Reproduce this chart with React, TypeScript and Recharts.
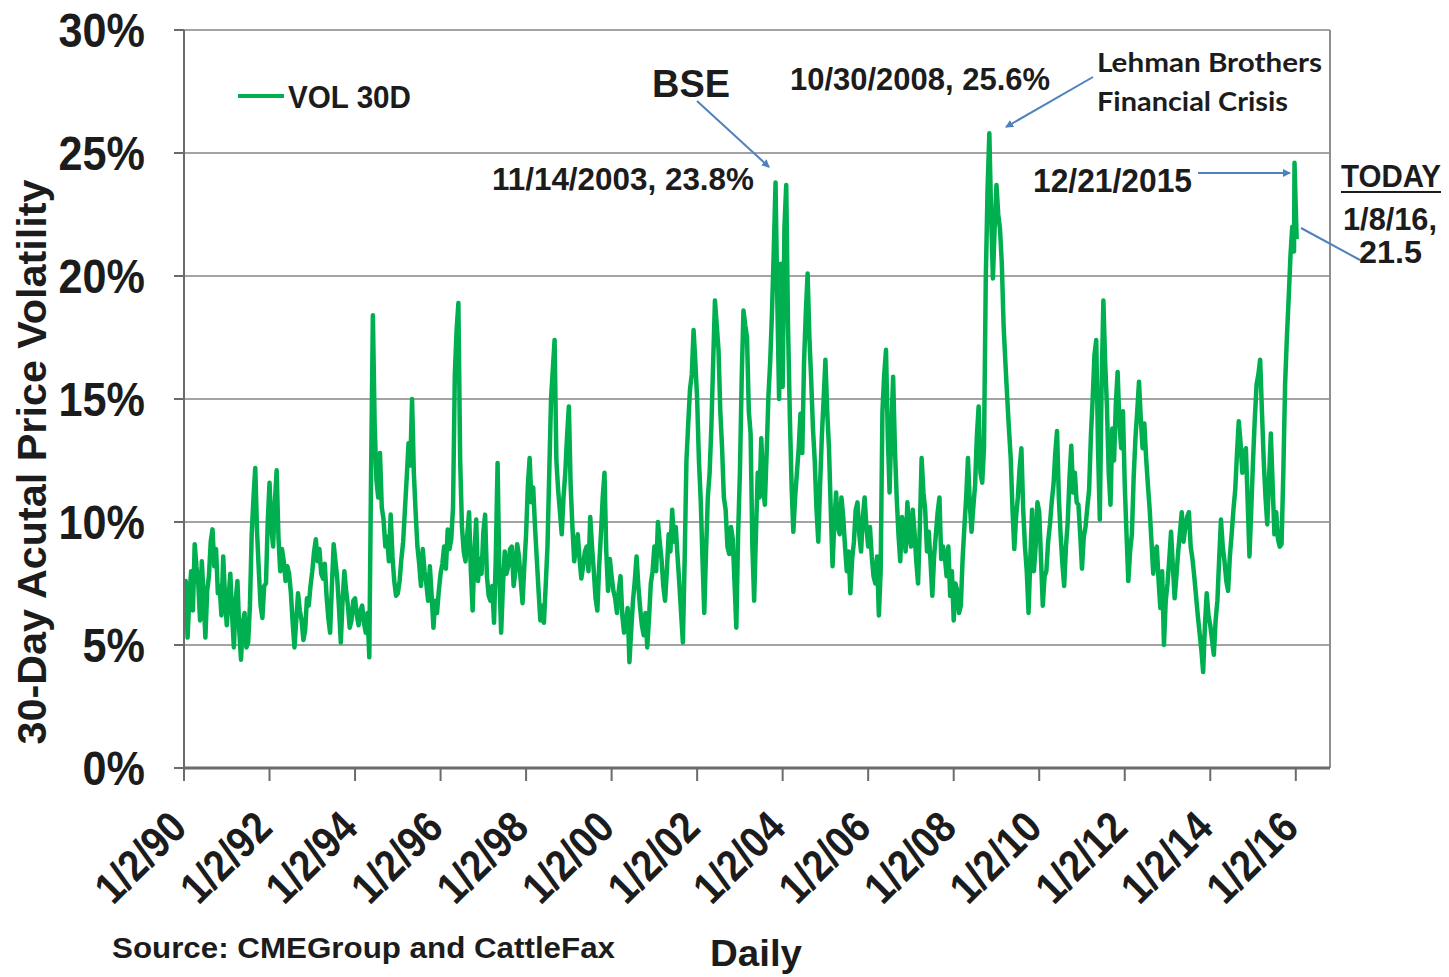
import React from 'react';
import { LineChart, Line, XAxis, YAxis, CartesianGrid, Legend, ReferenceLine } from 'recharts';

// 30-day volatility: a start-of-month and a mid-month reading, Jan 1990 to Dec 2015
const startYear = 1990;
const vol30dMonthStart = [
  6.5, 5.3, 8.0, 9.1, 7.5, 8.4, 5.3, 7.8, 9.7, 8.9, 7.4, 8.6, // 1990
  5.8, 7.9, 4.9, 7.6, 4.4, 6.3, 5.1, 9.5, 12.2, 8.0, 6.1, 7.5, // 1991
  11.6, 9.0, 12.1, 8.0, 8.4, 8.2, 7.1, 4.9, 7.1, 6.0, 5.6, 6.6, // 1992
  8.0, 9.3, 8.9, 7.7, 7.0, 5.5, 9.1, 7.7, 5.1, 8.0, 6.6, 6.0, // 1993
  6.9, 5.8, 6.6, 5.5, 4.5, 18.4, 11.7, 12.8, 10.1, 9.4, 10.3, 7.6, // 1994
  7.1, 8.5, 10.5, 13.2, 15.0, 10.4, 8.3, 8.9, 7.5, 8.2, 5.7, 6.3, // 1995
  7.9, 9.0, 9.7, 9.3, 16.0, 18.9, 9.8, 8.4, 10.4, 6.4, 10.1, 8.5, // 1996
  9.6, 7.8, 6.8, 5.9, 12.4, 5.5, 8.8, 8.2, 9.0, 8.0, 8.6, 6.7, // 1997
  9.5, 12.6, 11.4, 8.5, 6.0, 5.9, 9.0, 15.0, 17.4, 11.3, 9.5, 12.0, // 1998
  14.7, 9.8, 9.0, 8.5, 8.2, 9.0, 10.2, 8.0, 6.4, 9.5, 12.0, 7.2, // 1999
  7.8, 6.9, 7.2, 6.2, 5.9, 4.3, 6.8, 8.6, 6.5, 5.4, 4.9, 7.5, // 2000
  9.0, 10.0, 8.5, 6.8, 9.5, 10.5, 9.8, 7.5, 5.1, 12.5, 15.4, 17.8, // 2001
  15.0, 10.9, 6.3, 11.0, 13.9, 19.0, 17.0, 13.0, 10.5, 8.7, 9.3, 5.7, // 2002
  12.0, 18.6, 17.5, 13.6, 6.8, 12.0, 13.4, 10.7, 15.1, 18.5, 23.8, 15.0, // 2003
  15.5, 23.7, 14.4, 9.6, 12.0, 14.4, 16.5, 20.1, 15.8, 12.5, 9.2, 13.5, // 2004
  16.6, 13.0, 8.2, 11.2, 9.5, 10.2, 8.0, 7.1, 9.2, 10.8, 8.8, 11.0, // 2005
  9.0, 8.6, 7.5, 6.2, 14.5, 17.0, 11.2, 15.9, 11.0, 8.4, 9.8, 10.8, // 2006
  9.0, 9.6, 7.5, 12.6, 10.5, 9.6, 7.0, 9.5, 11.0, 9.0, 7.8, 7.0, // 2007
  6.0, 7.2, 6.6, 9.8, 12.6, 9.6, 11.5, 14.7, 11.6, 19.9, 25.8, 19.9, // 2008
  23.7, 21.9, 18.0, 15.1, 12.6, 8.9, 11.0, 13.0, 9.0, 6.3, 10.5, 9.0, // 2009
  10.4, 6.6, 8.0, 9.9, 11.5, 13.7, 9.5, 7.4, 10.0, 13.1, 12.0, 10.7, // 2010
  8.1, 9.8, 11.3, 15.0, 17.4, 10.1, 19.0, 14.7, 10.7, 12.5, 16.1, 13.0, // 2011
  11.5, 7.6, 9.5, 13.4, 15.7, 13.0, 12.6, 10.5, 7.9, 9.0, 6.5, 5.0, // 2012
  7.5, 9.6, 6.9, 8.8, 10.4, 9.8, 10.4, 8.5, 7.0, 5.5, 3.9, 7.1, // 2013
  5.8, 4.6, 6.8, 10.1, 8.4, 7.2, 9.5, 11.3, 14.1, 12.0, 13.0, 8.6, // 2014
  12.5, 15.6, 16.6, 12.5, 9.9, 13.6, 9.5, 9.3, 9.1, 15.6, 19.1, 22.0, // 2015
];

const vol30dMidMonth = [
  7.6, 6.9, 6.4, 8.2, 6.0, 7.0, 7.2, 9.2, 8.2, 7.1, 6.2, 7.0, // 1990
  6.9, 6.2, 6.8, 5.6, 5.9, 4.9, 6.6, 11.0, 9.6, 6.6, 7.4, 10.0, // 1991
  9.8, 10.8, 9.4, 8.9, 7.6, 7.9, 5.9, 6.0, 6.4, 5.2, 6.9, 7.4, // 1992
  8.8, 8.4, 7.9, 8.3, 6.1, 7.4, 8.4, 6.5, 6.8, 7.2, 5.7, 6.8, // 1993
  6.2, 6.4, 5.9, 6.3, 12.0, 14.0, 11.0, 10.6, 9.0, 8.4, 8.6, 7.0, // 1994
  7.6, 9.2, 11.8, 12.3, 12.0, 9.0, 7.4, 8.0, 6.8, 7.0, 6.8, 7.2, // 1995
  8.3, 8.1, 8.9, 10.6, 17.8, 12.5, 8.8, 9.5, 8.0, 8.8, 7.6, 7.9, // 1996
  10.3, 7.0, 7.4, 8.6, 7.8, 7.4, 7.9, 8.9, 7.4, 9.1, 7.6, 8.2, // 1997
  11.5, 10.8, 9.8, 7.2, 6.6, 7.4, 12.0, 16.2, 12.5, 10.4, 11.0, 13.5, // 1998
  11.5, 8.4, 9.5, 7.7, 8.8, 8.0, 9.0, 6.9, 8.2, 11.0, 8.8, 8.5, // 1999
  7.2, 6.3, 7.8, 5.5, 6.5, 5.6, 7.6, 7.4, 5.8, 6.3, 6.1, 8.0, // 2000
  8.0, 9.2, 7.4, 8.0, 8.8, 9.2, 8.6, 6.3, 8.5, 14.0, 16.0, 16.5, // 2001
  12.5, 8.5, 8.8, 12.0, 16.5, 18.0, 14.5, 11.0, 9.0, 9.8, 7.5, 9.5, // 2002
  15.8, 18.0, 14.5, 9.0, 9.5, 11.0, 11.5, 12.8, 16.5, 21.0, 19.0, 20.5, // 2003
  22.0, 18.0, 11.5, 11.0, 13.0, 12.8, 18.5, 17.5, 13.8, 10.5, 11.5, 15.0, // 2004
  14.5, 10.5, 10.0, 9.8, 11.0, 9.0, 8.8, 8.5, 10.5, 9.5, 10.2, 9.8, // 2005
  9.8, 7.8, 8.6, 8.0, 16.0, 13.5, 13.8, 13.0, 9.5, 10.2, 8.8, 9.5, // 2006
  10.5, 8.4, 9.8, 11.2, 8.8, 8.4, 8.6, 10.4, 8.5, 8.6, 9.0, 8.0, // 2007
  7.5, 6.3, 8.5, 11.0, 10.8, 10.6, 13.5, 12.0, 13.0, 23.5, 22.5, 22.0, // 2008
  22.5, 20.5, 16.5, 13.8, 10.5, 10.2, 12.2, 10.5, 8.0, 8.5, 8.0, 10.8, // 2009
  8.5, 7.8, 9.2, 10.8, 12.8, 11.0, 8.3, 9.0, 11.8, 11.2, 10.8, 9.5, // 2010
  9.4, 10.6, 13.5, 16.8, 13.0, 15.5, 16.5, 12.0, 13.8, 14.8, 14.0, 14.5, // 2011
  9.5, 8.8, 11.8, 14.5, 14.2, 14.0, 11.5, 9.2, 8.8, 7.6, 8.0, 6.8, // 2012
  8.5, 8.2, 7.8, 9.6, 9.2, 10.2, 9.0, 7.8, 6.2, 4.8, 5.8, 6.2, // 2013
  5.2, 6.0, 8.5, 9.0, 7.6, 8.6, 10.5, 12.8, 13.2, 12.8, 10.8, 10.5, // 2014
  14.2, 16.0, 14.5, 11.0, 11.8, 11.5, 10.4, 9.0, 12.0, 17.5, 20.8, 21.0, // 2015
];

// last two readings: 12/21/2015 and 1/8/16
const lateDates = [2015.97, 2016.02];
const lateVol = [24.6, 21.5];

const yearTicks = [1990, 1992, 1994, 1996, 1998, 2000, 2002, 2004, 2006, 2008, 2010, 2012, 2014, 2016];
const pctTicks = [0, 5, 10, 15, 20, 25, 30];

const data = [
  ...vol30dMonthStart.flatMap((v, i) => [
    { t: startYear + i / 12, vol: v },
    { t: startYear + (i + 0.5) / 12, vol: vol30dMidMonth[i] },
  ]),
  ...lateDates.map((t, i) => ({ t, vol: lateVol[i] })),
];

const FONT = '"Liberation Sans", Arial, sans-serif';
const INK = '#1c1c1c';
const ARROW = '#4f81bd';
const GREEN = '#00b050';

const XTick = (props: any) => {
  const { x, payload } = props;
  const yy = String(payload.value % 100).padStart(2, '0');
  return (
    <g transform={`translate(${x + 5},830) rotate(-45) scale(0.88,1)`}>
      <text x={0} y={0} textAnchor="end" fontFamily={FONT} fontWeight="bold" fontSize={44} fill={INK}>
        {`1/2/${yy}`}
      </text>
    </g>
  );
};

const YTick = (props: any) => {
  const { y, payload } = props;
  return (
    <g transform={`translate(145,${y}) scale(0.9,1)`}>
      <text x={0} y={0} dy={17} textAnchor="end" fontFamily={FONT} fontWeight="bold" fontSize={48} fill={INK}>
        {`${payload.value}%`}
      </text>
    </g>
  );
};

const LegendBox = () => (
  <svg width={190} height={40}>
    <line x1={2} y1={19} x2={48} y2={19} stroke={GREEN} strokeWidth={4} />
    <text x={52} y={31} fontFamily={FONT} fontWeight="bold" fontSize={32} fill={INK} textLength={123} lengthAdjust="spacingAndGlyphs">
      VOL 30D
    </text>
  </svg>
);

const Annotations = () => (
  <svg width={1449} height={977} style={{ position: 'absolute', left: 0, top: 0, pointerEvents: 'none' }}>
    <defs>
      <marker id="head" markerWidth="8" markerHeight="8" refX="7" refY="4" orient="auto" markerUnits="userSpaceOnUse">
        <path d="M0,0 L8,4 L0,8 z" fill={ARROW} />
      </marker>
    </defs>
    <g fontFamily={FONT} fontWeight="bold" fill={INK}>
      <text x={652} y={97} fontSize={38} textLength={78} lengthAdjust="spacingAndGlyphs">BSE</text>
      <text x={492} y={190} fontSize={32} textLength={262} lengthAdjust="spacingAndGlyphs">11/14/2003, 23.8%</text>
      <text x={790} y={90} fontSize={32} textLength={260} lengthAdjust="spacingAndGlyphs">10/30/2008, 25.6%</text>
      <text x={1033} y={192} fontSize={33} textLength={159} lengthAdjust="spacingAndGlyphs">12/21/2015</text>
      <text x={1341} y={187} fontSize={32} textLength={100} lengthAdjust="spacingAndGlyphs">TODAY</text>
      <text x={1343} y={230} fontSize={32} textLength={94} lengthAdjust="spacingAndGlyphs">1/8/16,</text>
      <text x={1359} y={263} fontSize={32} textLength={63} lengthAdjust="spacingAndGlyphs">21.5</text>
      <text x={112} y={958} fontSize={29} textLength={503} lengthAdjust="spacingAndGlyphs">Source: CMEGroup and CattleFax</text>
      <text x={710} y={966} fontSize={36} textLength={92} lengthAdjust="spacingAndGlyphs">Daily</text>
      <text
        transform="translate(46,462) rotate(-90)"
        textAnchor="middle"
        fontSize={40}
        textLength={565}
        lengthAdjust="spacingAndGlyphs"
      >
        30-Day Acutal Price Volatility
      </text>
    </g>
    <g fontFamily="Lato, 'Open Sans', sans-serif" fontWeight="bold" fill={INK} fontSize={27}>
      <text x={1097} y={72} textLength={225} lengthAdjust="spacingAndGlyphs">Lehman Brothers</text>
      <text x={1097} y={111} textLength={191} lengthAdjust="spacingAndGlyphs">Financial Crisis</text>
    </g>
    <line x1={1341} y1={192} x2={1441} y2={192} stroke={INK} strokeWidth={2} />
    <g stroke={ARROW} strokeWidth={2} fill="none">
      <line x1={697} y1={101} x2={769} y2={167} markerEnd="url(#head)" />
      <line x1={1093} y1={77} x2={1006} y2={127} markerEnd="url(#head)" />
      <line x1={1198} y1={173} x2={1290} y2={173} markerEnd="url(#head)" />
      <line x1={1301} y1={228} x2={1360} y2={260} />
    </g>
  </svg>
);

export default function App() {
  return (
    <div style={{ position: 'absolute', left: 0, top: 0, width: 1449, height: 977, background: '#fff' }}>
      <LineChart width={1449} height={977} data={data} margin={{ top: 30, right: 119, bottom: 69, left: 0 }}>
        <CartesianGrid horizontal vertical={false} stroke="#a3a3a3" strokeWidth={2} />
        <XAxis
          dataKey="t"
          type="number"
          domain={[1990, 2016.8]}
          ticks={yearTicks}
          interval={0}
          allowDataOverflow
          height={140}
          tickSize={13}
          tick={<XTick />}
          tickLine={{ stroke: '#6b6b6b', strokeWidth: 2 }}
          axisLine={{ stroke: '#6b6b6b', strokeWidth: 3 }}
        />
        <YAxis
          domain={[0, 30]}
          ticks={pctTicks}
          interval={0}
          width={184}
          tickSize={10}
          tick={<YTick />}
          tickLine={{ stroke: '#6b6b6b', strokeWidth: 2 }}
          axisLine={{ stroke: '#6b6b6b', strokeWidth: 2 }}
        />
        <ReferenceLine x={2016.8} stroke="#8f8f8f" strokeWidth={2} />
        <Line
          type="linear"
          dataKey="vol"
          name="VOL 30D"
          stroke={GREEN}
          strokeWidth={4.5}
          strokeLinejoin="round"
          dot={false}
          activeDot={false}
          isAnimationActive={false}
        />
        <Legend
          layout="vertical"
          align="center"
          verticalAlign="middle"
          content={<LegendBox />}
          wrapperStyle={{ left: 236, top: 77, width: 190, height: 40 }}
        />
      </LineChart>
      <Annotations />
    </div>
  );
}
